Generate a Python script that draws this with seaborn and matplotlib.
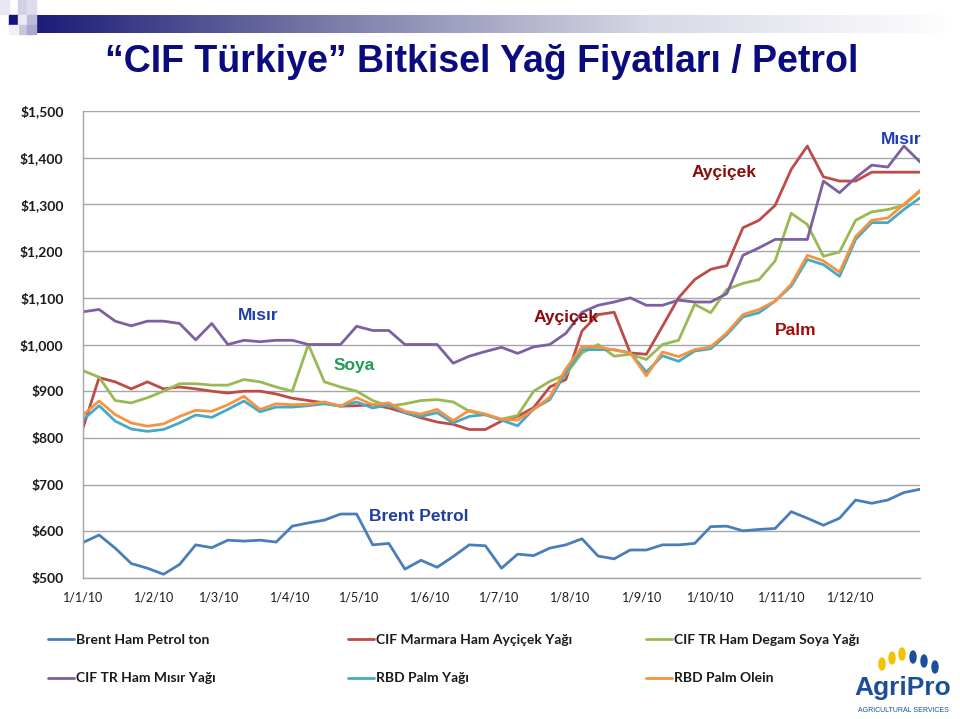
import numpy as np
import pandas as pd
import matplotlib
matplotlib.use("Agg")
import matplotlib.pyplot as plt
import matplotlib.dates as mdates
from matplotlib.ticker import FuncFormatter, MultipleLocator
import seaborn as sns

# Weekly data, 2010 (USD/ton)
dates = pd.date_range("2010-01-01", periods=53, freq="7D")

brent = [576, 592, 564, 531, 521, 508, 529, 571, 565, 581, 579, 581, 577,
         611, 618, 624, 637, 637, 571, 574, 519, 538, 523, 546, 571, 569,
         521, 551, 548, 564, 571, 584, 547, 541, 560, 560, 571, 571, 574,
         610, 611, 601, 604, 606, 642, 628, 613, 628, 667, 660, 667, 683, 690]

aycicek = [821, 929, 920, 905, 920, 905, 909, 905, 900, 896, 900, 900, 894,
           885, 880, 875, 868, 869, 871, 864, 854, 843, 834, 829, 818, 818,
           836, 846, 865, 909, 925, 1029, 1064, 1069, 982, 979, 1039, 1100, 1139,
           1161, 1169, 1250, 1266, 1298, 1375, 1425, 1359, 1350, 1350, 1369, 1369, 1369, 1369]

soya = [944, 930, 880, 875, 886, 900, 916, 916, 913, 913, 925, 920, 909,
        900, 1000, 920, 909, 900, 880, 868, 873, 880, 882, 877, 857, 849,
        840, 848, 900, 921, 936, 982, 1000, 975, 979, 968, 1000, 1009, 1086,
        1068, 1118, 1131, 1139, 1179, 1281, 1257, 1189, 1198, 1266, 1284, 1289, 1298, 1328]

misir = [1070, 1075, 1050, 1040, 1050, 1050, 1045, 1010, 1045, 1000, 1009, 1006, 1009,
         1009, 1000, 1000, 1000, 1039, 1030, 1030, 1000, 1000, 1000, 960, 975, 985,
         994, 981, 995, 1000, 1024, 1069, 1084, 1091, 1100, 1084, 1084, 1095, 1091,
         1091, 1109, 1191, 1207, 1225, 1225, 1225, 1350, 1325, 1357, 1384, 1380, 1425, 1391]

palm = [839, 869, 836, 819, 814, 818, 832, 849, 844, 861, 879, 856, 866,
        866, 869, 873, 868, 877, 864, 871, 854, 846, 854, 832, 846, 850,
        838, 826, 862, 882, 940, 989, 989, 989, 982, 941, 976, 964, 986,
        991, 1021, 1059, 1068, 1093, 1125, 1182, 1171, 1146, 1225, 1261, 1261, 1289, 1314]

olein = [849, 879, 850, 832, 825, 830, 846, 859, 857, 871, 889, 861, 873,
         871, 872, 877, 868, 886, 871, 875, 857, 851, 861, 837, 859, 851,
         840, 838, 861, 887, 948, 995, 995, 988, 982, 933, 984, 974, 989,
         995, 1025, 1064, 1075, 1093, 1129, 1191, 1179, 1155, 1231, 1266, 1271, 1300, 1330]

labels = ["Brent Ham Petrol ton", "CIF Marmara Ham Ayçiçek Yağı", "CIF TR Ham Degam Soya Yağı",
          "CIF TR Ham Mısır Yağı", "RBD Palm Yağı", "RBD Palm Olein"]
colors = ["#4A7EBB", "#BE4B48", "#98B954", "#7D60A0", "#46AAC5", "#F69240"]
series = [brent, aycicek, soya, misir, palm, olein]

sns.set_theme(style="white")
plt.rcParams["font.family"] = ["Lato", "DejaVu Sans"]

fig = plt.figure(figsize=(9.6, 7.19), dpi=100)
ax = fig.add_axes([83 / 960, 1 - 578 / 719, 837 / 960, 467 / 719])

handles = []
for vals, lab, col in zip(series, labels, colors):
    sns.lineplot(x=dates, y=vals, color=col, linewidth=2.0, ax=ax, label=lab, legend=False)
    handles.append(ax.lines[-1])

ax.set_xlim(dates[0], dates[-1])
ax.set_ylim(500, 1500)
ax.yaxis.set_major_locator(MultipleLocator(100))
ax.yaxis.set_major_formatter(FuncFormatter(lambda v, p: f"${v:,.0f}"))
ax.xaxis.set_major_locator(mdates.MonthLocator())
ax.xaxis.set_major_formatter(FuncFormatter(
    lambda v, p: (lambda d: f"{d.day}/{d.month}/{d.year % 100}")(mdates.num2date(v))))
ax.set_xlabel("")
ax.set_ylabel("")
ax.grid(axis="y", color="#A6A6A6", linewidth=1.0)
ax.grid(axis="x", visible=False)
for s in ["top", "right"]:
    ax.spines[s].set_visible(False)
for s in ["left", "bottom"]:
    ax.spines[s].set_color("#A6A6A6")
    ax.spines[s].set_linewidth(1.0)
ax.tick_params(axis="both", which="major", length=4, color="#A6A6A6", direction="out")
ax.tick_params(axis="y", labelsize=10, pad=10)
ax.tick_params(axis="x", labelsize=9, pad=6)
for t in ax.get_yticklabels():
    t.set_fontweight("bold")
    t.set_color("#1a1a1a")
for t in ax.get_xticklabels():
    t.set_color("#1a1a1a")
ax.set_zorder(1)

# series annotations
ann = [("Mısır", "2010-03-18", 1063, "#1F3FB0"),
       ("Soya", "2010-04-29", 956, "#1E9E50"),
       ("Ayçiçek", "2010-07-30", 1057, "#8B0A0A"),
       ("Ayçiçek", "2010-10-07", 1369, "#8B0A0A"),
       ("Palm", "2010-11-07", 1031, "#A00C0C"),
       ("Mısır", "2010-12-23", 1438, "#1F3FB0"),
       ("Brent Petrol", "2010-05-27", 631, "#1F3FA0")]
for txt, d, v, c in ann:
    ax.text(pd.Timestamp(d), v, txt, color=c, fontsize=12.5, fontweight="bold",
            ha="center", va="center", family=["Liberation Sans", "DejaVu Sans"])

# legend, three columns
cols_x = [48, 348, 646]
for k in range(3):
    leg = fig.legend(handles=[handles[k], handles[k + 3]], labels=[labels[k], labels[k + 3]],
                     loc="upper left", bbox_to_anchor=(cols_x[k] / 960, 1 - 634 / 719),
                     frameon=False, fontsize=10, handlelength=1.9, handletextpad=0.15,
                     labelspacing=1.9, borderaxespad=0, borderpad=0)
    for t in leg.get_texts():
        t.set_fontweight("bold")
        t.set_color("#1a1a1a")

# header decoration: gradient bar and squares
bar = fig.add_axes([34 / 960, 1 - 33 / 719, 924 / 960, 18 / 719])
grad = np.linspace(0, 1, 256)[None, :]
cmap = matplotlib.colors.LinearSegmentedColormap.from_list("hdr", ["#1C1C78", "#7F7FAA", "#D8D8E6", "#FFFFFF"])
bar.imshow(grad, aspect="auto", cmap=cmap)
bar.axis("off")
for (x0, y0, w, h, c) in [(0, 0, 9, 14, "#E8E8F3"), (18, 0, 8, 14, "#D0D0E6"),
                          (27, 0, 9, 15, "#DCDCEE"), (9, 15, 9, 10, "#14147A"),
                          (18, 15, 9, 10, "#EAEAF4"), (27, 15, 9, 10, "#BCBCDA"),
                          (18, 25, 8, 9, "#C6C6E0"), (9, 25, 9, 9, "#F0F0F7"),
                          (27, 25, 9, 9, "#A8A8D2")]:
    fig.patches.append(matplotlib.patches.Rectangle((x0 / 960, 1 - (y0 + h) / 719), w / 960, h / 719,
                                                    transform=fig.transFigure, color=c, zorder=0))

fig.text(482 / 960, 1 - 62 / 719, "“CIF Türkiye” Bitkisel Yağ Fiyatları / Petrol",
         ha="center", va="center", fontsize=27, fontweight="bold", color="#0B0B80",
         family=["Liberation Sans Narrow", "Liberation Sans", "DejaVu Sans"])

# logo text
fig.text(903 / 960, 1 - 688 / 719, "AgriPro", ha="center", va="center", fontsize=19,
         fontweight="bold", color="#1B4F9C",
         family=["Liberation Sans Narrow", "Liberation Sans", "DejaVu Sans"])
fig.text(903 / 960, 1 - 710 / 719, "AGRICULTURAL SERVICES", ha="center", va="center",
         fontsize=5, color="#1B4F9C", family=["Liberation Sans", "DejaVu Sans"])
for (lx, ly, c) in [(882, 664, "#F2C200"), (892, 658, "#F2C200"), (902, 654, "#F2C200"),
                    (913, 657, "#1B4F9C"), (924, 661, "#1B4F9C"), (935, 667, "#1B4F9C")]:
    fig.patches.append(matplotlib.patches.Ellipse((lx / 960, 1 - ly / 719), 6 / 960, 12 / 719,
                                                  transform=fig.transFigure, color=c))

fig.savefig("out.png", dpi=100)
